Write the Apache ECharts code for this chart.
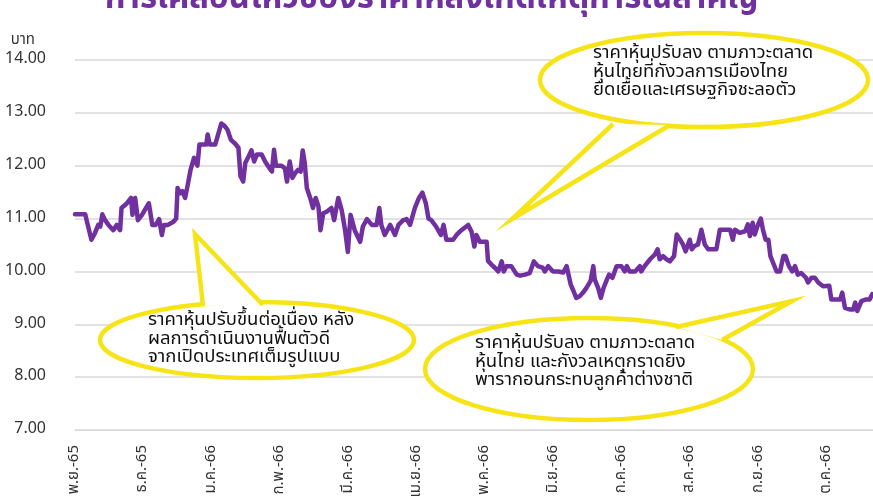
<!DOCTYPE html>
<html>
<head>
<meta charset="utf-8">
<script src="https://cdn.jsdelivr.net/npm/echarts@6/dist/echarts.min.js"></script>
<style>
  html, body { margin: 0; padding: 0; background: #fff; }
  #chart { width: 873px; height: 501px; }
</style>
</head>
<body>
<div id="chart"></div>
<script>
var monthLabels = ["พ.ย.-65", "ธ.ค.-65", "ม.ค.-66", "ก.พ.-66", "มี.ค.-66", "เม.ย.-66",
  "พ.ค.-66", "มิ.ย.-66", "ก.ค.-66", "ส.ค.-66", "ก.ย.-66", "ต.ค.-66"];

// position in months since 1 Nov 2022
var monthPos = [
  0.00, 0.15, 0.17, 0.24, 0.29, 0.34, 0.37, 0.40, 0.44, 0.49, 0.56, 0.61, 0.66, 0.68, 0.76, 0.82, 0.84, 0.88, 0.92, 0.98,
  1.02, 1.08, 1.13, 1.18, 1.23, 1.27, 1.30, 1.36, 1.44, 1.48, 1.50, 1.54, 1.57, 1.61, 1.64, 1.69, 1.74, 1.76, 1.79, 1.82,
  1.87, 1.92, 1.94, 1.97, 2.05, 2.10, 2.14, 2.19, 2.23, 2.28, 2.34, 2.39, 2.42, 2.46, 2.49, 2.54, 2.58, 2.62, 2.66, 2.73,
  2.78, 2.84, 2.88, 2.91, 2.94, 3.02, 3.07, 3.10, 3.14, 3.18, 3.22, 3.26, 3.30, 3.33, 3.36, 3.39, 3.44, 3.48, 3.52, 3.56,
  3.59, 3.63, 3.68, 3.75, 3.79, 3.85, 3.90, 3.95, 3.99, 4.03, 4.09, 4.17, 4.21, 4.27, 4.34, 4.41, 4.45, 4.48, 4.53, 4.61,
  4.68, 4.73, 4.80, 4.85, 4.90, 4.97, 5.03, 5.08, 5.13, 5.17, 5.21, 5.28, 5.35, 5.39, 5.43, 5.53, 5.58, 5.65, 5.75, 5.80,
  5.84, 5.87, 5.92, 6.02, 6.04, 6.09, 6.14, 6.19, 6.24, 6.27, 6.31, 6.38, 6.46, 6.51, 6.58, 6.65, 6.71, 6.77, 6.84, 6.87,
  6.92, 6.99, 7.07, 7.14, 7.19, 7.25, 7.29, 7.33, 7.38, 7.43, 7.48, 7.54, 7.58, 7.60, 7.65, 7.69, 7.73, 7.78, 7.81, 7.86,
  7.92, 7.99, 8.04, 8.07, 8.11, 8.19, 8.26, 8.28, 8.33, 8.41, 8.48, 8.52, 8.55, 8.60, 8.65, 8.70, 8.76, 8.80, 8.85, 8.89,
  8.93, 8.99, 9.02, 9.06, 9.11, 9.16, 9.21, 9.26, 9.38, 9.43, 9.58, 9.62, 9.65, 9.72, 9.80, 9.84, 9.87, 9.91, 9.94, 9.99,
  10.03, 10.06, 10.10, 10.14, 10.17, 10.21, 10.26, 10.31, 10.36, 10.39, 10.44, 10.49, 10.53, 10.57, 10.62, 10.69, 10.72, 10.77, 10.82, 10.87,
  10.94, 11.03, 11.06, 11.19, 11.22, 11.26, 11.33, 11.38, 11.41, 11.44, 11.50, 11.57, 11.62, 11.66
];

// price (baht)
var price = [
  11.08, 11.08, 10.97, 10.60, 10.72, 10.88, 10.85, 11.08, 10.97, 10.88, 10.78, 10.88, 10.78, 11.20, 11.29, 11.39, 11.07, 11.39, 10.97, 11.07,
  11.16, 11.29, 10.88, 10.88, 10.99, 10.69, 10.88, 10.88, 10.94, 11.00, 11.58, 11.48, 11.52, 11.39, 11.58, 11.92, 12.15, 12.18, 12.00, 12.40,
  12.40, 12.40, 12.59, 12.40, 12.40, 12.62, 12.80, 12.75, 12.68, 12.49, 12.42, 12.34, 11.80, 11.70, 12.05, 12.18, 12.29, 12.08, 12.21, 12.21,
  12.08, 11.96, 11.89, 12.30, 12.00, 12.00, 11.95, 11.70, 12.08, 11.77, 11.86, 11.92, 11.89, 12.29, 12.05, 11.58, 11.39, 11.20, 11.39, 11.23,
  10.78, 11.10, 11.13, 11.20, 10.97, 11.39, 11.16, 10.78, 10.37, 11.07, 10.78, 10.56, 10.85, 10.99, 10.88, 10.88, 11.20, 10.88, 10.69, 10.88,
  10.69, 10.88, 10.97, 10.99, 10.88, 11.20, 11.39, 11.49, 11.29, 11.00, 10.97, 10.85, 10.69, 10.88, 10.60, 10.60, 10.69, 10.78, 10.88, 10.75,
  10.47, 10.69, 10.56, 10.56, 10.20, 10.13, 10.07, 10.00, 10.19, 10.00, 10.10, 10.10, 9.94, 9.92, 9.94, 9.97, 10.19, 10.10, 10.07, 10.00,
  10.10, 10.00, 10.00, 9.98, 10.10, 9.75, 9.63, 9.50, 9.53, 9.60, 9.69, 9.82, 10.10, 9.85, 9.69, 9.50, 9.69, 9.85, 9.94, 9.88,
  10.10, 10.10, 10.00, 10.10, 10.00, 10.00, 10.10, 10.00, 10.10, 10.23, 10.32, 10.42, 10.23, 10.29, 10.23, 10.19, 10.29, 10.70, 10.60, 10.51,
  10.38, 10.60, 10.42, 10.48, 10.51, 10.79, 10.51, 10.42, 10.42, 10.79, 10.79, 10.60, 10.79, 10.73, 10.76, 10.89, 10.67, 10.92, 10.70, 10.89,
  11.00, 10.79, 10.60, 10.60, 10.29, 10.16, 10.00, 10.00, 10.29, 10.29, 10.10, 10.00, 10.10, 9.94, 9.97, 9.88, 9.79, 9.88, 9.88, 9.79,
  9.72, 9.73, 9.47, 9.47, 9.60, 9.31, 9.28, 9.28, 9.41, 9.25, 9.44, 9.47, 9.47, 9.57
];

var titleText = "การเคลื่อนไหวของราคาหลังเกิดเหตุการณ์สำคัญ";
var note1 = "ราคาหุ้นปรับขึ้นต่อเนื่อง หลัง\nผลการดำเนินงานฟื้นตัวดี\nจากเปิดประเทศเต็มรูปแบบ";
var note2 = "ราคาหุ้นปรับลง ตามภาวะตลาด\nหุ้นไทย และกังวลเหตุกราดยิง\nพารากอนกระทบลูกค้าต่างชาติ";
var note3 = "ราคาหุ้นปรับลง ตามภาวะตลาด\nหุ้นไทยที่กังวลการเมืองไทย\nยืดเยื้อและเศรษฐกิจชะลอตัว";

var FONT = "'Noto Sans Thai', 'Noto Sans', 'DejaVu Sans', sans-serif";
var YELLOW = "#F6E417";

function callout(ell, base1, tip, base2, textPos, text) {
  return [
    {
      type: "ellipse", z: 100,
      shape: { cx: ell[0], cy: ell[1], rx: ell[2], ry: ell[3] },
      style: { fill: "#fff", stroke: YELLOW, lineWidth: 4.5 }
    },
    {
      type: "polygon", z: 101,
      shape: { points: [base1, tip, base2] },
      style: { fill: "#fff" }
    },
    {
      type: "polyline", z: 102,
      shape: { points: [base1, tip, base2] },
      style: { fill: null, stroke: YELLOW, lineWidth: 4.5, lineJoin: "miter" }
    },
    {
      type: "text", z: 103, left: textPos[0], top: textPos[1],
      style: { text: text, fill: "#111", font: "18.5px " + FONT, lineHeight: 18.5 }
    }
  ];
}

var chart = echarts.init(document.getElementById("chart"));
var option = {
  animation: false,
  title: {
    text: titleText,
    left: 100,
    top: -20,
    textStyle: { color: "#7030A0", fontSize: 33, fontWeight: "bold", fontFamily: FONT }
  },
  grid: { left: 75, right: 0, top: 60, bottom: 71, containLabel: false },
  xAxis: {
    type: "value",
    min: 0,
    max: 11.67,
    interval: 1,
    splitLine: { show: false },
    axisTick: { show: false },
    axisLine: { show: true, lineStyle: { color: "#d9d9d9", width: 1 } },
    axisLabel: {
      rotate: 90,
      margin: 15,
      color: "#333",
      fontSize: 15,
      fontFamily: FONT,
      showMaxLabel: false,
      formatter: function (v) {
        return Number.isInteger(v) && monthLabels[v] ? monthLabels[v] : "";
      }
    }
  },
  yAxis: {
    type: "value",
    min: 7,
    max: 14,
    interval: 1,
    name: "บาท",
    nameLocation: "end",
    nameGap: 12,
    nameTextStyle: { color: "#333", fontSize: 15, fontFamily: FONT, align: "right", padding: [0, 40, 0, 0] },
    axisLine: { show: false },
    axisTick: { show: false },
    splitLine: { show: true, lineStyle: { color: "#d9d9d9", width: 1.5 } },
    axisLabel: {
      margin: 29,
      color: "#333",
      fontSize: 16,
      fontFamily: FONT,
      formatter: function (v) { return v.toFixed(2); }
    }
  },
  series: [
    {
      type: "line",
      showSymbol: false,
      symbol: "none",
      lineStyle: { color: "#7030A0", width: 4.5, cap: "round", join: "round" },
      data: monthPos.map(function (t, i) { return [t, price[i]]; })
    }
  ],
  graphic: [].concat(
    callout([257, 340, 157, 38], [203, 306], [195, 234], [263, 305], [148, 312], note1),
    callout([589, 369, 164, 51], [676, 327], [792, 301], [722, 340], [475, 335], note2),
    callout([704, 80, 164, 47], [613, 124], [512, 219], [670, 125], [593, 45], note3)
  )
};
chart.setOption(option);
</script>
</body>
</html>
